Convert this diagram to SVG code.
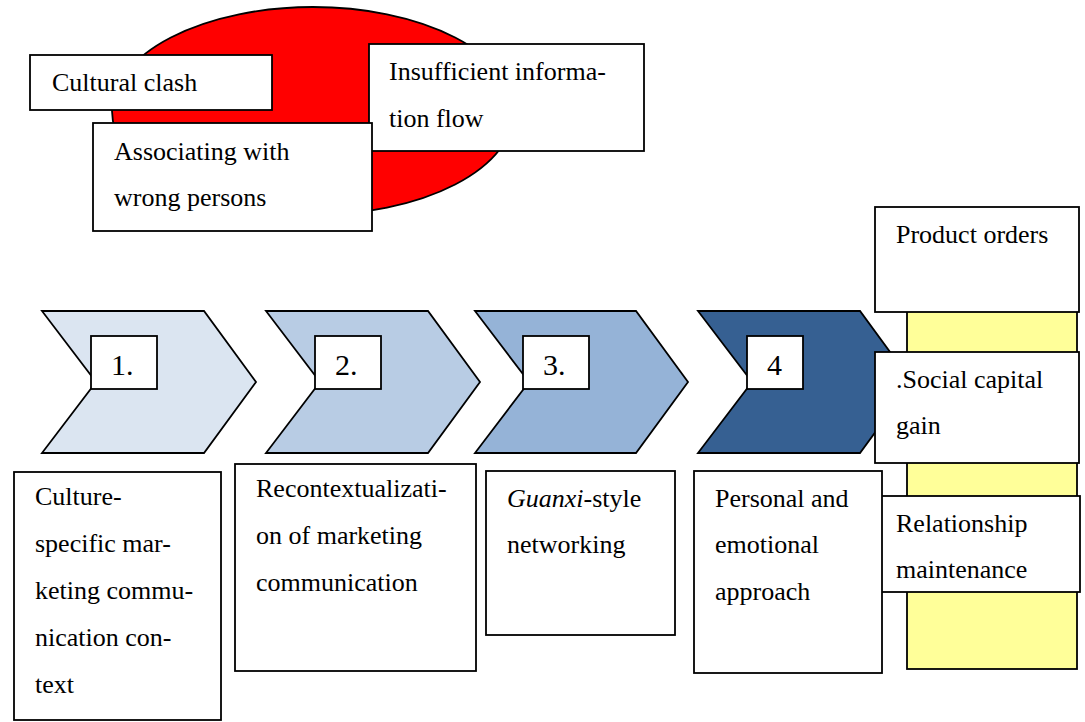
<svg xmlns="http://www.w3.org/2000/svg" width="1085" height="722" viewBox="0 0 1085 722">
<style>
.t{font-family:"Liberation Serif","Times New Roman",serif;font-size:26px;fill:#000}
.n{font-family:"Liberation Serif","Times New Roman",serif;font-size:30px;fill:#000}
.box{fill:#fff;stroke:#000;stroke-width:1.8}
.chev{stroke:#000;stroke-width:1.8}
</style>
<rect width="1085" height="722" fill="#fff"/>
<g id="problems">
<ellipse cx="313" cy="111" rx="201" ry="104" fill="#ff0000" stroke="#000" stroke-width="1.8"/>
</g>
<g id="cultural-clash">
<rect class="box" x="30" y="55" width="242" height="55"/>
<text class="t" x="52" y="91">Cultural clash</text>
</g>
<g id="insufficient-info">
<rect class="box" x="369" y="44" width="275" height="107"/>
<text class="t" x="389" y="80">Insufficient informa-</text>
<text class="t" x="389" y="127">tion flow</text>
</g>
<g id="wrong-persons">
<rect class="box" x="93" y="123" width="279" height="108"/>
<text class="t" x="114" y="160">Associating with</text>
<text class="t" x="114" y="206">wrong persons</text>
</g>
<g id="outcomes-bar">
<rect x="907" y="300" width="170" height="369" fill="#ffff99" stroke="#000" stroke-width="1.8"/>
</g>
<g id="step1">
<polygon class="chev" fill="#dbe5f1" points="42,311 204,311 256,382 204,453 42,453 96,382"/>
<rect class="box" x="91" y="336" width="66" height="53"/>
<text class="n" x="111" y="375">1.</text>
</g>
<g id="step2">
<polygon class="chev" fill="#b8cce4" points="266,311 428,311 480,382 428,453 266,453 320,382"/>
<rect class="box" x="315" y="336" width="66" height="53"/>
<text class="n" x="335" y="375">2.</text>
</g>
<g id="step3">
<polygon class="chev" fill="#95b3d7" points="475,311 636,311 688,382 636,453 475,453 529,382"/>
<rect class="box" x="523" y="336" width="66" height="53"/>
<text class="n" x="543" y="375">3.</text>
</g>
<g id="step4">
<polygon class="chev" fill="#366092" points="698,311 860,311 912,382 860,453 698,453 752,382"/>
<rect class="box" x="747" y="336" width="56" height="53"/>
<text class="n" x="767" y="375">4</text>
</g>
<g id="product-orders">
<rect class="box" x="875" y="207" width="204" height="105"/>
<text class="t" x="896" y="243">Product orders</text>
</g>
<g id="social-capital">
<rect class="box" x="875" y="352" width="204" height="111"/>
<text class="t" x="896" y="388">.Social capital</text>
<text class="t" x="896" y="434">gain</text>
</g>
<g id="relationship">
<rect class="box" x="875" y="496" width="205" height="96"/>
<text class="t" x="896" y="532">Relationship</text>
<text class="t" x="896" y="578">maintenance</text>
</g>
<g id="desc1">
<rect class="box" x="14" y="472" width="207" height="248"/>
<text class="t" x="35" y="505">Culture-</text>
<text class="t" x="35" y="552">specific mar-</text>
<text class="t" x="35" y="599">keting commu-</text>
<text class="t" x="35" y="646">nication con-</text>
<text class="t" x="35" y="693">text</text>
</g>
<g id="desc2">
<rect class="box" x="235" y="464" width="241" height="207"/>
<text class="t" x="256" y="497">Recontextualizati-</text>
<text class="t" x="256" y="544">on of marketing</text>
<text class="t" x="256" y="591">communication</text>
</g>
<g id="desc3">
<rect class="box" x="486" y="471" width="189" height="164"/>
<text class="t" x="507" y="507"><tspan font-style="italic">Guanxi</tspan>-style</text>
<text class="t" x="507" y="553">networking</text>
</g>
<g id="desc4">
<rect class="box" x="694" y="471" width="188" height="202"/>
<text class="t" x="715" y="507">Personal and</text>
<text class="t" x="715" y="553">emotional</text>
<text class="t" x="715" y="600">approach</text>
</g>
<g id="connectors"></g>
</svg>
